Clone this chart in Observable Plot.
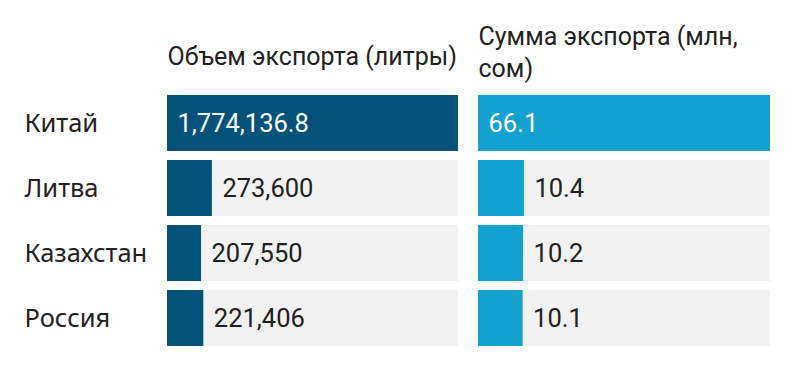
<!DOCTYPE html>
<html>
<head>
<meta charset="utf-8">
<script src="https://cdn.jsdelivr.net/npm/d3@7"></script>
<script src="https://cdn.jsdelivr.net/npm/@observablehq/plot@0.6"></script>
<style>
  html, body { margin: 0; padding: 0; background: #fff; }
  #chart { display: flex; flex-direction: row; width: 800px; height: 377px; }
  svg { display: block; }
</style>
</head>
<body>
<div id="chart"></div>
<script>
const countries = ["Китай", "Литва", "Казахстан", "Россия"];
const volumeLiters = [1774136.8, 273600, 207550, 221406];
const valueMlnSom = [66.1, 10.4, 10.2, 10.1];
const headerLeft = "Объем экспорта (литры)";
const headerRight = "Сумма экспорта (млн,\nсом)";

const darkBlue = "#03527a";
const lightBlue = "#14a1cf";
const bgGray = "#f2f2f2";
const textColor = "#212121";
const fmt = d3.format(",");

function panel({values, header, color, width, marginLeft, marginRight, showCategories, headerDy}) {
  const max = d3.max(values);
  const rows = countries.map((c, i) => ({country: c, value: values[i], full: values[i] === max}));
  const marks = [
    Plot.barX(rows, {y: "country", x1: 0, x2: max, fill: bgGray}),
    Plot.barX(rows, {y: "country", x1: 0, x2: "value", fill: color}),
    Plot.text(rows.filter(d => d.full), {
      y: "country", x: 0, text: d => fmt(d.value), textAnchor: "start", dx: 10,
      fill: "white", fontSize: 25.5, fontFamily: "Roboto"
    }),
    Plot.text(rows.filter(d => !d.full), {
      y: "country", x: "value", text: d => fmt(d.value), textAnchor: "start", dx: 10,
      fill: textColor, fontSize: 25.5, fontFamily: "Roboto"
    }),
    Plot.text([header], {
      frameAnchor: "top-left", text: d => d, textAnchor: "start", lineAnchor: "bottom",
      dy: headerDy, lineHeight: 1.25, fill: textColor, fontSize: 25, fontFamily: "Roboto"
    })
  ];
  if (showCategories) {
    marks.push(Plot.text(rows, {
      y: "country", text: "country", frameAnchor: "left", textAnchor: "start", dx: -143,
      fill: textColor, fontSize: 25.5, fontFamily: "Noto Sans, Arial, sans-serif"
    }));
  }
  return Plot.plot({
    width, height: 377,
    marginTop: 95, marginBottom: 31, marginLeft, marginRight,
    style: {background: "transparent", overflow: "visible"},
    x: {domain: [0, max], axis: null},
    y: {domain: countries, axis: null, paddingInner: 0.14, paddingOuter: 0},
    marks
  });
}

const chart = document.getElementById("chart");
chart.appendChild(panel({values: volumeLiters, header: headerLeft, color: darkBlue,
  width: 468, marginLeft: 167, marginRight: 10, showCategories: true, headerDy: -31}));
chart.appendChild(panel({values: valueMlnSom, header: headerRight, color: lightBlue,
  width: 332, marginLeft: 10, marginRight: 30, showCategories: false, headerDy: -19}));
</script>
</body>
</html>
